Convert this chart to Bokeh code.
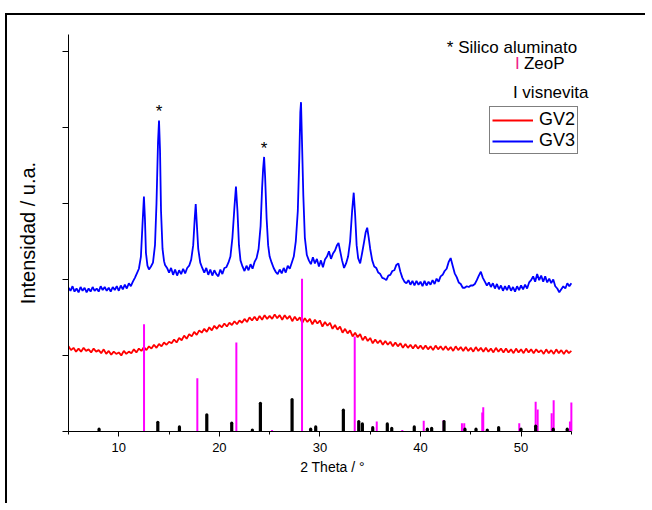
import numpy as np
from bokeh.plotting import figure
from bokeh.models import FixedTicker, Label, Legend, LegendItem, CustomJSTickFormatter
from bokeh.embed import file_html
from bokeh.resources import INLINE

# ---------------- data ----------------
# GV3 (blue) pattern: 2theta and intensity (offset, a.u.)
gv3_x = [5.0, 5.2, 5.4, 5.6, 5.8, 6.0, 6.2, 6.4, 6.6, 6.8, 7.0, 7.2, 7.4, 7.6, 7.8, 8.0, 8.2, 8.4, 8.6, 8.8,
         9.0, 9.2, 9.4, 9.6, 9.8, 10.0, 10.2, 10.4, 10.6, 10.8, 11.0, 11.2, 11.4, 11.6, 11.8, 12.0, 12.2, 12.35,
         12.5, 12.6, 12.7, 12.85, 13.0, 13.2, 13.4, 13.6, 13.75, 13.9, 14.0, 14.1, 14.2, 14.35, 14.5, 14.6,
         14.8, 15.0, 15.2, 15.4, 15.6, 15.8, 16.0, 16.2, 16.4, 16.6, 16.8, 17.0, 17.2, 17.4, 17.55, 17.65,
         17.75, 17.9, 18.1, 18.3, 18.5, 18.7, 18.9, 19.1, 19.3, 19.5, 19.7, 19.9, 20.1, 20.3, 20.5, 20.7,
         20.9, 21.1, 21.3, 21.5, 21.65, 21.8, 21.95, 22.1, 22.3, 22.5, 22.7, 22.9, 23.1, 23.3, 23.5, 23.7,
         23.9, 24.1, 24.25, 24.35, 24.45, 24.55, 24.7, 24.85, 25.0, 25.2, 25.4, 25.6, 25.8, 26.0, 26.2, 26.4,
         26.6, 26.8, 27.0, 27.2, 27.4, 27.6, 27.8, 27.95, 28.05, 28.12, 28.2, 28.35, 28.5, 28.7, 28.9, 29.1,
         29.3, 29.5, 29.7, 29.9, 30.1, 30.3, 30.5, 30.7, 30.9, 31.1, 31.3, 31.5, 31.7, 31.85, 32.0, 32.2,
         32.4, 32.6, 32.8, 33.0, 33.2, 33.36, 33.5, 33.65, 33.8, 34.0, 34.2, 34.4, 34.55, 34.7, 34.85, 35.0,
         35.2, 35.4, 35.6, 35.8, 36.0, 36.2, 36.4, 36.6, 36.8, 37.0, 37.2, 37.4, 37.6, 37.8, 38.0, 38.2,
         38.4, 38.6, 38.8, 39.0, 39.2, 39.4, 39.6, 39.8, 40.0, 40.2, 40.4, 40.6, 40.8, 41.0, 41.2, 41.4,
         41.6, 41.8, 42.0, 42.2, 42.4, 42.6, 42.8, 43.0, 43.2, 43.4, 43.6, 43.8, 44.0, 44.2, 44.4, 44.6,
         44.8, 45.0, 45.2, 45.4, 45.6, 45.8, 46.0, 46.2, 46.4, 46.6, 46.8, 47.0, 47.2, 47.4, 47.6, 47.8,
         48.0, 48.2, 48.4, 48.6, 48.8, 49.0, 49.2, 49.4, 49.6, 49.8, 50.0, 50.2, 50.4, 50.6, 50.8, 51.0,
         51.2, 51.4, 51.6, 51.8, 52.0, 52.2, 52.4, 52.6, 52.8, 53.0, 53.2, 53.4, 53.6, 53.8, 54.0, 54.2,
         54.4, 54.6, 54.8, 55.0]
gv3_y = [1.89, 1.85, 1.91, 1.84, 1.88, 1.83, 1.90, 1.85, 1.89, 1.83, 1.88, 1.84, 1.90, 1.85, 1.88, 1.84, 1.91, 1.86, 1.90, 1.85,
         1.89, 1.84, 1.90, 1.86, 1.91, 1.85, 1.92, 1.87, 1.93, 1.88, 1.95, 1.91, 1.97, 2.02, 2.08, 2.14, 2.30, 2.70,
         3.09, 2.80, 2.35, 2.18, 2.13, 2.17, 2.22, 2.45, 3.00, 3.80, 4.09, 3.70, 2.90, 2.40, 2.24, 2.19,
         2.15, 2.09, 2.15, 2.06, 2.13, 2.05, 2.12, 2.07, 2.14, 2.08, 2.15, 2.18, 2.26, 2.45, 2.80, 2.99,
         2.75, 2.40, 2.22, 2.15, 2.09, 2.15, 2.06, 2.13, 2.05, 2.12, 2.07, 2.04, 2.13, 2.07, 2.15, 2.16,
         2.22, 2.30, 2.55, 2.95, 3.22, 2.90, 2.45, 2.25, 2.17, 2.11, 2.18, 2.12, 2.20, 2.14, 2.23, 2.28,
         2.40, 2.70, 3.20, 3.45, 3.61, 3.35, 2.80, 2.45, 2.30, 2.22, 2.15, 2.10, 2.07, 2.13, 2.08, 2.15,
         2.09, 2.18, 2.14, 2.22, 2.30, 2.50, 2.90, 3.60, 4.20, 4.33, 3.90, 3.10, 2.55, 2.32, 2.25, 2.20,
         2.29, 2.21, 2.27, 2.17, 2.25, 2.16, 2.26, 2.30, 2.37, 2.27, 2.34, 2.38, 2.45, 2.48, 2.38, 2.25,
         2.15, 2.21, 2.30, 2.50, 2.90, 3.14, 2.85, 2.45, 2.28, 2.21, 2.35, 2.50, 2.62, 2.68, 2.55, 2.40,
         2.25, 2.17, 2.15, 2.09, 2.07, 2.02, 2.01, 1.99, 2.05, 2.06, 2.11, 2.12, 2.19, 2.21, 2.10, 2.02,
         1.97, 1.95, 1.99, 1.93, 1.98, 1.92, 1.98, 1.93, 1.97, 1.91, 1.98, 1.92, 1.97, 1.93, 1.99, 1.94,
         2.01, 1.97, 2.04, 2.06, 2.11, 2.14, 2.23, 2.28, 2.18, 2.08, 2.03, 1.96, 1.94, 1.89, 1.89, 1.91,
         1.90, 1.92, 1.92, 1.94, 1.99, 2.05, 2.10, 2.02, 1.97, 1.92, 1.96, 1.90, 1.95, 1.88, 1.94, 1.87,
         1.92, 1.85, 1.91, 1.86, 1.92, 1.85, 1.90, 1.84, 1.91, 1.86, 1.92, 1.87, 1.93, 1.88, 1.96, 1.99,
         2.04, 1.97, 2.07, 1.99, 2.05, 1.97, 2.04, 1.96, 2.01, 1.95, 2.00, 1.91, 1.88, 1.83, 1.87, 1.91,
         1.88, 1.95, 1.91, 1.95]

# GV2 (red) pattern: intensity on a 0.25 deg 2theta grid starting at 5 deg
gv2_start, gv2_step = 5.0, 0.25
gv2_y = [1.12, 1.07, 1.10, 1.05, 1.09,
         1.05, 1.10, 1.06, 1.08, 1.04, 1.09, 1.05, 1.07, 1.03, 1.08, 1.02, 1.06, 1.01, 1.05, 1.02, 1.04,
         1.00, 1.06, 1.02, 1.05, 1.03, 1.08, 1.04, 1.09, 1.06, 1.11, 1.07, 1.12, 1.09, 1.14, 1.10, 1.15,
         1.12, 1.17, 1.14, 1.18, 1.16, 1.21, 1.17, 1.23, 1.20, 1.26, 1.22, 1.28, 1.25, 1.31, 1.27, 1.33,
         1.30, 1.35, 1.31, 1.37, 1.33, 1.39, 1.35, 1.40, 1.37, 1.42, 1.38, 1.43, 1.40, 1.45, 1.41, 1.46,
         1.43, 1.48, 1.44, 1.50, 1.46, 1.51, 1.46, 1.52, 1.47, 1.53, 1.48, 1.52, 1.48, 1.54, 1.49, 1.53,
         1.47, 1.53, 1.48, 1.52, 1.45, 1.51, 1.46, 1.50, 1.43, 1.49, 1.44, 1.48, 1.41, 1.47, 1.42, 1.46,
         1.38, 1.44, 1.39, 1.43, 1.35, 1.40, 1.34, 1.38, 1.30, 1.35, 1.29, 1.33, 1.25, 1.30, 1.24, 1.28,
         1.20, 1.25, 1.19, 1.23, 1.16, 1.21, 1.16, 1.20, 1.14, 1.19, 1.14, 1.18, 1.12, 1.17, 1.12, 1.16,
         1.10, 1.15, 1.10, 1.14, 1.09, 1.14, 1.09, 1.13, 1.08, 1.13, 1.08, 1.12, 1.07, 1.13, 1.08, 1.12,
         1.07, 1.12, 1.07, 1.11, 1.06, 1.12, 1.07, 1.11, 1.06, 1.11, 1.06, 1.10, 1.05, 1.11, 1.06, 1.10,
         1.05, 1.10, 1.05, 1.09, 1.04, 1.10, 1.05, 1.09, 1.04, 1.09, 1.04, 1.08, 1.03, 1.09, 1.04, 1.08,
         1.03, 1.09, 1.04, 1.08, 1.03, 1.08, 1.04, 1.07, 1.02, 1.08, 1.03, 1.07, 1.02, 1.08, 1.03, 1.07,
         1.02, 1.07, 1.03, 1.06]

# ZeoP reference reflections (magenta sticks)
zeop_pos = [12.51, 17.81, 21.69, 25.24, 28.22, 33.46, 35.65, 38.19, 40.32, 42.30, 44.12, 44.35,
            46.14, 46.24, 49.82, 51.45, 51.65, 53.04, 53.24, 54.86, 55.0]
zeop_int = [1.41, 0.70, 1.17, 0.02, 2.01, 1.25, 0.13, 0.02, 0.14, 0.15, 0.11, 0.11,
            0.25, 0.32, 0.11, 0.39, 0.29, 0.24, 0.41, 0.13, 0.38]

# visnevita reference reflections (black sticks)
visn_pos = [8.04, 13.88, 16.03, 18.75, 21.23, 23.28, 24.08, 27.23, 29.08, 29.58, 32.33, 33.86,
            34.22, 35.25, 36.70, 37.14, 39.38, 40.68, 41.11, 42.34, 44.42, 45.52, 46.64, 47.77,
            49.99, 51.45, 53.20, 54.59]
visn_int = [0.03, 0.12, 0.06, 0.22, 0.11, 0.02, 0.37, 0.42, 0.03, 0.06, 0.28, 0.13,
            0.10, 0.05, 0.10, 0.04, 0.06, 0.03, 0.04, 0.13, 0.03, 0.03, 0.02, 0.05,
            0.03, 0.07, 0.03, 0.03]

x_major = [10, 20, 30, 40, 50]
x_minor = [5, 15, 25, 35, 45, 55]
y_ticks = [0, 1, 2, 3, 4, 5]

gv2_x = [gv2_start + gv2_step * i for i in range(len(gv2_y))]

FONT = "Liberation Sans"

p = figure(width=640, height=490, x_range=(5, 57.5), y_range=(0, 5.22),
           output_backend="svg", toolbar_location=None,
           min_border_left=61, min_border_right=51, min_border_top=19, min_border_bottom=74)
p.margin = (13, 0, 0, 5)
p.styles = {"border-top": "2px solid black", "border-left": "2px solid black"}
p.outline_line_color = None
p.xgrid.visible = False
p.ygrid.visible = False
p.background_fill_color = "white"
p.border_fill_color = "white"

r2 = p.line(gv2_x, gv2_y, line_color="#ff0000", line_width=1.8)
r3 = p.line(gv3_x, gv3_y, line_color="#0000ff", line_width=1.8)

p.segment(x0=zeop_pos, y0=[0] * len(zeop_pos), x1=zeop_pos, y1=zeop_int,
          line_color="#ff00ff", line_width=2)
p.segment(x0=visn_pos, y0=[0] * len(visn_pos), x1=visn_pos, y1=visn_int,
          line_color="black", line_width=3.2, line_cap="round")

# axes
xa = p.xaxis[0]
xa.bounds = (5, 55)
xa.ticker = FixedTicker(ticks=x_major, minor_ticks=x_minor)
xa.axis_label = "2 Theta / °"
xa.axis_label_text_font = FONT
xa.axis_label_text_font_style = "normal"
xa.axis_label_text_font_size = "14px"
xa.axis_label_text_color = "black"
xa.axis_label_standoff = 4
xa.major_label_text_font = FONT
xa.major_label_text_font_size = "13px"
xa.major_label_text_color = "black"
xa.major_label_standoff = 6
xa.major_tick_out = 5
xa.major_tick_in = 0
xa.minor_tick_out = 3
xa.minor_tick_in = 0
xa.axis_line_color = "black"
xa.major_tick_line_color = "black"
xa.minor_tick_line_color = "black"

ya = p.yaxis[0]
ya.ticker = FixedTicker(ticks=y_ticks, minor_ticks=[])
ya.formatter = CustomJSTickFormatter(code="return ''")
ya.axis_label = "Intensidad / u.a."
ya.axis_label_text_font = FONT
ya.axis_label_text_font_style = "normal"
ya.axis_label_text_font_size = "20px"
ya.axis_label_text_color = "black"
ya.axis_label_standoff = 24
ya.major_tick_out = 6
ya.major_tick_in = 0
ya.minor_tick_line_color = None
ya.axis_line_color = "black"
ya.major_tick_line_color = "black"

# annotation texts
def add_label(x, y, text, color="black", size="17px", align="left", baseline="middle"):
    p.add_layout(Label(x=x, y=y, text=text, text_color=color, text_font=FONT,
                       text_font_size=size, text_align=align, text_baseline=baseline))

add_label(42.62, 5.05, "* Silico aluminato")
add_label(49.63, 4.84, "I", color="#ee2288", align="center")
add_label(50.28, 4.84, "ZeoP")
add_label(49.19, 4.46, "I visnevita")
add_label(14.0, 4.21, "*", size="17px", align="center", baseline="alphabetic")
add_label(24.44, 3.72, "*", size="17px", align="center", baseline="alphabetic")

legend = Legend(items=[LegendItem(label="GV2", renderers=[r2]),
                       LegendItem(label="GV3", renderers=[r3])],
                location=(421, 277), orientation="vertical",
                label_text_font=FONT, label_text_font_size="18px", label_text_color="black",
                label_height=20, glyph_height=20, glyph_width=41,
                label_standoff=6, spacing=0, padding=2, margin=0,
                border_line_color="black", border_line_width=1,
                background_fill_alpha=1.0)
p.add_layout(legend)

open("out.html", "w").write(file_html(p, INLINE))
